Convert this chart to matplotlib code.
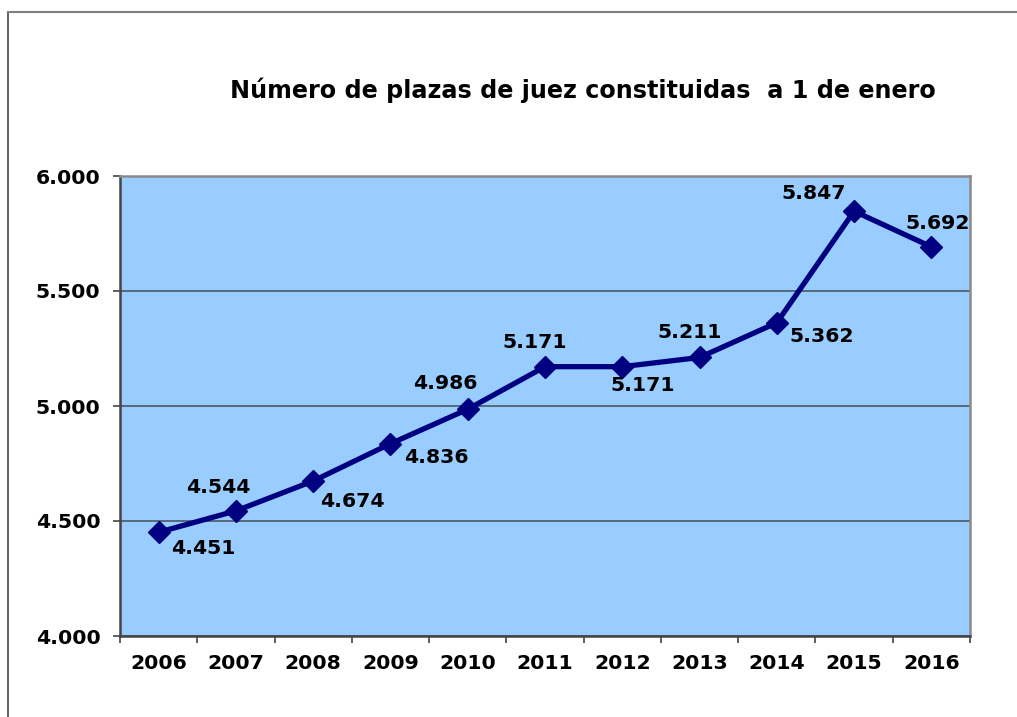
import numpy as np
import matplotlib
matplotlib.use("Agg")
import matplotlib.pyplot as plt
from matplotlib.lines import Line2D

years = ["2006", "2007", "2008", "2009", "2010", "2011", "2012", "2013", "2014", "2015", "2016"]
values = [4451, 4544, 4674, 4836, 4986, 5171, 5171, 5211, 5362, 5847, 5692]
value_labels = ["4.451", "4.544", "4.674", "4.836", "4.986", "5.171", "5.171", "5.211", "5.362", "5.847", "5.692"]
y_ticks = [4000, 4500, 5000, 5500, 6000]
y_tick_labels = ["4.000", "4.500", "5.000", "5.500", "6.000"]
title = "Número de plazas de juez constituidas  a 1 de enero"

# label offsets in pixels (dx, dy), style only
offsets = [(45, -16), (-18, 23), (39, -21), (46, -14), (-22, 26), (-10, 24),
           (20, -19), (-10, 25), (45, -14), (-40, 18), (6, 23)]

plt.rcParams['font.family'] = ['DejaVu Sans']
W, H = 1017, 717
fig = plt.figure(figsize=(W / 100, H / 100), dpi=100)
fig.patch.set_facecolor("white")

# outer chart frame (left and top visible)
fig.add_artist(Line2D([7.5 / W, 7.5 / W], [0, 1 - 11.5 / H], color="#444444", lw=1.2,
                      transform=fig.transFigure))
fig.add_artist(Line2D([7.5 / W, 1], [1 - 11.5 / H, 1 - 11.5 / H], color="#808080", lw=1.5,
                      transform=fig.transFigure))

ax = fig.add_axes([120 / W, 1 - 636 / H, 850 / W, 460 / H])
ax.set_facecolor("#99CCFF")

x = np.arange(len(years))
ax.plot(x, values, color="#000080", lw=3.8, marker="D", markersize=11.5, zorder=3)

for xi, v, lab, (dx, dy) in zip(x, values, value_labels, offsets):
    ax.annotate(lab, (xi, v), xytext=(dx, dy), textcoords="offset pixels",
                ha="center", va="center", fontsize=14.7, fontweight="bold", color="black")

ax.set_xlim(-0.5, len(years) - 0.5)
ax.set_ylim(4000, 6000)
ax.set_yticks(y_ticks)
ax.set_yticklabels(y_tick_labels, fontsize=14.7, fontweight="bold")
ax.set_xticks(x)
ax.set_xticklabels(years, fontsize=14.7, fontweight="bold")
ax.set_xticks(np.arange(-0.5, len(years), 1.0), minor=True)
ax.tick_params(axis="x", which="major", length=0, pad=13)
ax.tick_params(axis="x", which="minor", length=5, width=1.2, color="#444444", direction="out")
ax.tick_params(axis="y", which="major", length=5, width=1.2, color="#444444", direction="out", pad=9)

ax.grid(axis="y", color="#4a5866", lw=1.2)
ax.set_axisbelow(True)

for s in ["left", "bottom"]:
    ax.spines[s].set_color("#444444")
    ax.spines[s].set_linewidth(1.8)
for s in ["top", "right"]:
    ax.spines[s].set_color("#8a8a8a")
    ax.spines[s].set_linewidth(1.8)

fig.text(583 / W, 1 - 90 / H, title, ha="center", va="center",
         fontsize=17.2, fontweight="bold")

fig.savefig("out.png", dpi=100)
